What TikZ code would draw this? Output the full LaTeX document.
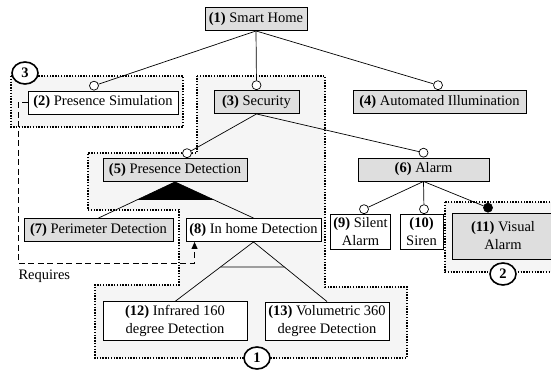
\documentclass[tikz,border=0pt]{standalone}
\usepackage{fontspec}
\setmainfont{Liberation Serif}
\usetikzlibrary{shapes.geometric,arrows.meta,calc}

\tikzset{
	feature/.style={draw,line width=0.9pt,fill=white,inner xsep=3pt,inner ysep=3.4pt,minimum height=23pt,align=center},
	core/.style={feature,fill=black!13},
	opt/.style={circle,draw,fill=white,line width=0.7pt,minimum size=9pt,inner sep=0pt},
	mand/.style={opt,fill=black},
	group/.style={draw,line width=1.4pt,dash pattern=on 1.4pt off 1.4pt,fill=black!4},
	tag/.style={ellipse,draw,line width=1.6pt,fill=white,minimum width=26pt,minimum height=22pt,inner sep=0pt,font=\fontsize{14.5}{18}\selectfont\bfseries},
	edge/.style={line width=0.7pt},
}

\begin{document}
\begin{tikzpicture}[x=1pt,y=-1pt,font=\fontsize{14.5}{18}\selectfont]
	\clip (0,0) rectangle (551,371);
	% groups
	\draw[group] (11,76) rectangle (183,127);
	\draw[group] (197,76) -- (325,76) -- (325,287) -- (407,287) -- (407,358) -- (95,358) -- (95,285) -- (179,285) -- (179,210) -- (88,210) -- (88,153) -- (197,153) -- cycle;
	\draw[group] (445,202) rectangle (562,272);

	% features
	\node[core,minimum width=102pt] (n1) at (256,19) {\textbf{(1)} Smart Home};
	\node[feature,minimum width=150pt] (n2) at (103,102.5) {\textbf{(2)} Presence Simulation};
	\node[core,minimum width=85pt] (n3) at (256.5,102) {\textbf{(3)} Security};
	\node[core,minimum width=173pt] (n4) at (439.5,102) {\textbf{(4)} Automated Illumination};
	\node[core,minimum width=144pt] (n5) at (175,170) {\textbf{(5)} Presence Detection};
	\node[core,minimum width=131pt] (n6) at (423.5,169.5) {\textbf{(6)} Alarm};
	\node[core,minimum width=149pt] (n7) at (98.5,230) {\textbf{(7)} Perimeter Detection};
	\node[feature,minimum width=135pt] (n8) at (253.5,230) {\textbf{(8)} In home Detection};
	\node[feature,minimum width=59pt] (n9) at (360.5,232) {\textbf{(9)} Silent\\Alarm};
	\node[feature,minimum width=43pt] (n10) at (421.5,232) {\textbf{(10)}\\Siren};
	\node[core,minimum width=102pt,minimum height=46pt] (n11) at (503,236) {\textbf{(11)} Visual\\Alarm};
	\node[feature,minimum width=144pt] (n12) at (175,321) {\textbf{(12)} Infrared 160\\degree Detection};
	\node[feature,minimum width=124pt] (n13) at (327,321) {\textbf{(13)} Volumetric 360\\degree Detection};

	% optional / mandatory marks
	\foreach \f/\dx in {2/-9,3/0,4/-1.5,5/12,6/0,9/3.5,10/2.5}
		\node[opt,anchor=south,xshift=\dx pt] (o\f) at (n\f.north) {};
	\node[mand,anchor=south,xshift=-15pt] (o11) at (n11.north) {};

	% decomposition
	\foreach \c in {2,3,4}
		\draw[edge] (n1.south) -- (o\c);
	\foreach \c in {5,6}
		\draw[edge] (n3.south) -- (o\c);
	\foreach \c in {9,10,11}
		\draw[edge] (n6.south) -- (o\c);
	\draw[edge] (n7.north) -- (n5.south) -- (n8.north);
	\fill ($(n5.south)!0.5!(n7.north)$) -- (n5.south) -- ($(n5.south)!0.5!(n8.north)$) -- cycle;
	\draw[edge] (n12.north) -- (n8.south) -- (n13.north);
	\draw[edge] ($(n8.south)!0.42!(n12.north)$) -- ($(n8.south)!0.42!(n13.north)$);

	% requires
	\coordinate (r) at ([xshift=9pt]n8.south west);
	\draw[line width=0.9pt,dash pattern=on 6pt off 3.5pt,-{Triangle[width=6pt,length=7pt]}] (n2.west) -| (18,263) -| (r);
	\node[anchor=west] (req) at (15,276) {Requires};

	% group tags
	\node[tag] (t1) at (257,358) {1};
	\node[tag] (t2) at (503,274) {2};
	\node[tag] (t3) at (25,73) {3};
\end{tikzpicture}
\end{document}
